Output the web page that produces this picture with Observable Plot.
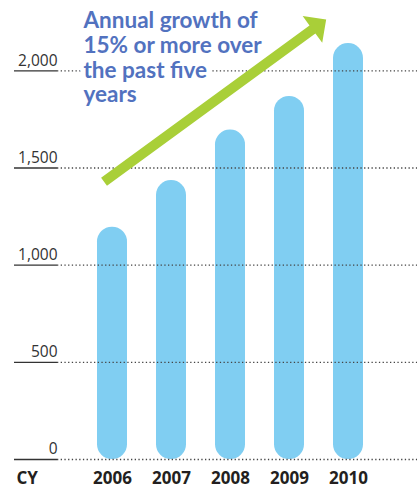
<!DOCTYPE html>
<html>
<head>
<meta charset="utf-8">
<script src="https://cdn.jsdelivr.net/npm/d3@7"></script>
<script src="https://cdn.jsdelivr.net/npm/@observablehq/plot@0.6"></script>
<style>
  html, body { margin: 0; padding: 0; background: #fff; }
  #chart svg { display: block; }
</style>
</head>
<body>
<div id="chart"></div>
<script>
// ---- data ----
const years = ["2006", "2007", "2008", "2009", "2010"];
const values = [1195, 1435, 1695, 1868, 2140];
const yTicks = [0, 500, 1000, 1500, 2000];
const axisLabel = "CY";
const annotation = ["Annual growth of", "15% or more over", "the past five", "years"];
// arrow endpoints: [fractional year position, value]
const arrowStart = [2005.865, 1427];
const arrowEnd = [2009.63, 2262];

const data = years.map((y, i) => ({year: y, value: values[i]}));

const blue = "#80cef2";
const green = "#a9cf38";
const titleBlue = "#5272bf";
const boldFont = "'Liberation Sans Narrow', 'Open Sans', sans-serif";

const chart = Plot.plot({
  width: 419,
  height: 493,
  marginLeft: 14,
  marginRight: 2,
  marginTop: 12,
  marginBottom: 34,
  x: {domain: years, range: [81.3, 378.3], paddingInner: 0.5, paddingOuter: 0.25, axis: null},
  y: {domain: [0, 2300], axis: null},
  style: {fontFamily: "'Open Sans', sans-serif", background: "#fff"},
  marks: [
    Plot.barY(data, {x: "year", y: "value", fill: blue, rx: 14.85}),
    // solid part of tick lines
    Plot.ruleY(yTicks, {stroke: "#333", strokeWidth: 1.3, insetRight: 360}),
    // dotted gridlines
    Plot.ruleY(yTicks, {stroke: "#444", strokeWidth: 1.3, strokeDasharray: "1.3 2.4", insetLeft: 43}),
    Plot.text(yTicks, {
      y: d => d, text: d => d3.format(",")(d), frameAnchor: "left",
      textAnchor: "end", dx: 43, dy: -10, fontSize: 15.5, fill: "#333"
    }),
    Plot.text(years, {
      x: d => d, text: d => d, frameAnchor: "bottom", dy: 24,
      fontSize: 17, fontWeight: "bold", fill: "#231f20", fontFamily: boldFont
    }),
    Plot.text([axisLabel], {
      frameAnchor: "bottom-left", textAnchor: "start", dx: 2, dy: 24,
      fontSize: 17, fontWeight: "bold", fill: "#231f20", fontFamily: boldFont
    }),
    Plot.text([annotation.join("\n")], {
      frameAnchor: "top-left", textAnchor: "start", lineAnchor: "top",
      dx: 69, dy: -2, lineHeight: 1.1, fontSize: 22.5, fontWeight: "bold",
      fill: titleBlue, fontFamily: "Lato, sans-serif",
      stroke: "white", strokeWidth: 9, paintOrder: "stroke"
    })
  ]
});

// ---- arrow annotation drawn through the chart's scales ----
const xs = chart.scale("x");
const ys = chart.scale("y");
const step = xs.apply("2007") - xs.apply("2006");
const c0 = xs.apply("2006") + xs.bandwidth / 2;
const px = yr => c0 + (yr - 2006) * step;
const s = [px(arrowStart[0]), ys.apply(arrowStart[1])];
const t = [px(arrowEnd[0]), ys.apply(arrowEnd[1])];
const len = Math.hypot(t[0] - s[0], t[1] - s[1]);
const u = [(t[0] - s[0]) / len, (t[1] - s[1]) / len];
const n = [-u[1], u[0]];
const headLen = 17, headHalf = 16.6, shaftHalf = 5;
const b = [t[0] - headLen * u[0], t[1] - headLen * u[1]];
const pt = (p, k) => [p[0] + k * n[0], p[1] + k * n[1]];
const poly = [pt(s, shaftHalf), pt(b, shaftHalf), pt(b, headHalf), t, pt(b, -headHalf), pt(b, -shaftHalf), pt(s, -shaftHalf)];
d3.select(chart).append("path")
  .attr("d", "M" + poly.map(p => p.join(",")).join("L") + "Z")
  .attr("fill", green);

document.getElementById("chart").appendChild(chart);
</script>
</body>
</html>
